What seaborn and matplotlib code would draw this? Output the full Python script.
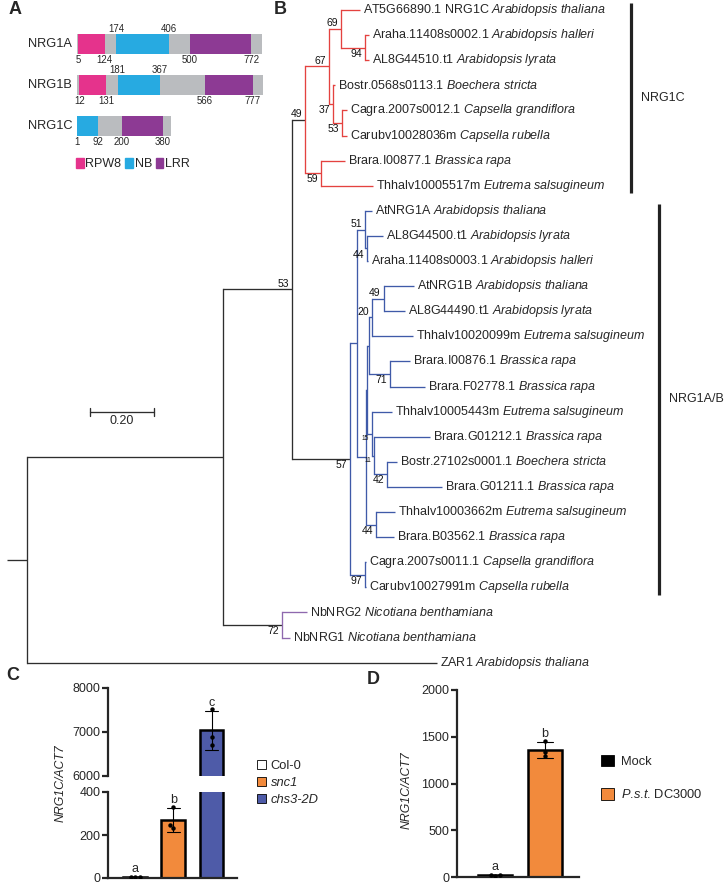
import numpy as np
import pandas as pd
import matplotlib.pyplot as plt
from matplotlib.patches import Patch
import seaborn as sns

# ---------- A: domain architecture (residue numbers) ----------
proteins = ['NRG1A', 'NRG1B', 'NRG1C']
protein_len = [816, 821, 417]
rpw8 = [(5, 124), (12, 131), None]
nb = [(174, 406), (181, 367), (1, 92)]
lrr = [(500, 772), (566, 777), (200, 380)]
pos_above = [[174, 406], [181, 367], []]
pos_below = [[5, 124, 500, 772], [12, 131, 566, 777], [1, 92, 200, 380]]

# ---------- B: ML tree (branch lengths in substitutions/site, bootstrap as node labels) ----------
newick = ("((((((t0:0.059,(t1:0.0125,t2:0.0125)94:0.075)69:0.0375,"
          "(t3:0.006,(t4:0.016,t5:0.016)53:0.028)37:0.0125)67:0.075,"
          "(t6:0.075,t7:0.1625)59:0.05)49:0.041,"
          "(((t8:0.022,(t9:0.05,t10:0.003)44:0.006)51:0.025,"
          "(((((t11:0.094,t12:0.066)49:0.0375,t13:0.128)20:0.009,"
          "(t14:0.0625,t15:0.109)71:0.066):0.006,"
          "(t16:0.0625,(t17:0.175,(t18:0.031,t19:0.172)42:0.041)11:0.006)15:0.016):0.003,"
          "(t20:0.059,t21:0.056)44:0.031):0.028):0.022,"
          "(t22:0.003,t23:0.003)97:0.047)57:0.181)53:0.216,"
          "(t24:0.078,t25:0.025)72:0.184):0.6125,"
          "t26:1.281):0.0625;")
tip_names = ['AT5G66890.1 NRG1C', 'Araha.11408s0002.1', 'AL8G44510.t1', 'Bostr.0568s0113.1',
             'Cagra.2007s0012.1', 'Carubv10028036m', 'Brara.I00877.1', 'Thhalv10005517m',
             'AtNRG1A', 'AL8G44500.t1', 'Araha.11408s0003.1', 'AtNRG1B', 'AL8G44490.t1',
             'Thhalv10020099m', 'Brara.I00876.1', 'Brara.F02778.1', 'Thhalv10005443m',
             'Brara.G01212.1', 'Bostr.27102s0001.1', 'Brara.G01211.1', 'Thhalv10003662m',
             'Brara.B03562.1', 'Cagra.2007s0011.1', 'Carubv10027991m', 'NbNRG2', 'NbNRG1', 'ZAR1']
tip_species = ['Arabidopsis thaliana', 'Arabidopsis halleri', 'Arabidopsis lyrata', 'Boechera stricta',
               'Capsella grandiflora', 'Capsella rubella', 'Brassica rapa', 'Eutrema salsugineum',
               'Arabidopsis thaliana', 'Arabidopsis lyrata', 'Arabidopsis halleri', 'Arabidopsis thaliana',
               'Arabidopsis lyrata', 'Eutrema salsugineum', 'Brassica rapa', 'Brassica rapa',
               'Eutrema salsugineum', 'Brassica rapa', 'Boechera stricta', 'Brassica rapa',
               'Eutrema salsugineum', 'Brassica rapa', 'Capsella grandiflora', 'Capsella rubella',
               'Nicotiana benthamiana', 'Nicotiana benthamiana', 'Arabidopsis thaliana']
clade_tips = [(0, 7), (8, 23), (24, 25)]
clade_labels = ['NRG1C', 'NRG1A/B', None]
clade_colors = ['#E4423F', '#3F5AA8', '#8E68AE']

# ---------- C / D: qPCR ----------
genotypes = ['Col-0', 'snc1', 'chs3-2D']
col0_vals = [4, 6, 5]
snc1_vals = [231, 246, 331]
chs3_vals = [7530, 6880, 6700]
letters_c = ['a', 'b', 'c']

treatments = ['Mock', 'P.s.t. DC3000']
mock_vals = [15, 22, 18]
pst_vals = [1455, 1290, 1340]
letters_d = ['a', 'b']

sns.set_style('ticks')
plt.rcParams['font.family'] = ['Liberation Sans', 'DejaVu Sans']
plt.rcParams['mathtext.fontset'] = 'custom'
plt.rcParams['mathtext.rm'] = 'Liberation Sans'
plt.rcParams['mathtext.it'] = 'Liberation Sans:italic'
plt.rcParams['mathtext.bf'] = 'Liberation Sans:bold'


def it(s):
    return r'$\mathit{' + s.replace(' ', r'\ ') + '}$'


W, H = 725, 883
fig = plt.figure(figsize=(W / 100, H / 100), dpi=100)


def box(x0, y0, x1, y1):
    return [x0 / W, 1 - y1 / H, (x1 - x0) / W, (y1 - y0) / H]


# ================= A =================
c_rpw8, c_nb, c_lrr, c_grey = '#E5338C', '#27AAE1', '#8D3A94', '#BABCBF'
axA = fig.add_axes(box(0, 0, 270, 180))
axA.set_xlim(1 - 77 / 0.2262, 1 + 193 / 0.2262)
axA.set_ylim(3.317, -1.073)
axA.axis('off')
for i, name in enumerate(proteins):
    axA.barh(i, protein_len[i], left=1, height=0.49, color=c_grey, lw=0)
    for seg, col in ((rpw8[i], c_rpw8), (nb[i], c_nb), (lrr[i], c_lrr)):
        if seg:
            axA.barh(i, seg[1] - seg[0], left=seg[0], height=0.49, color=col, lw=0)
    axA.annotate(name, xy=(1, i), xytext=(-3.5, 0), textcoords='offset points',
                 ha='right', va='center', fontsize=9.2)
    for v in pos_above[i]:
        axA.annotate(str(v), xy=(v, i - 0.245), xytext=(0, 0.3), textcoords='offset points',
                     ha='center', va='bottom', fontsize=6.9)
    for v in pos_below[i]:
        axA.annotate(str(v), xy=(v, i + 0.245), xytext=(0, -0.5), textcoords='offset points',
                     ha='center', va='top', fontsize=6.9)
axA.legend([Patch(color=c) for c in (c_rpw8, c_nb, c_lrr)], ['RPW8', 'NB', 'LRR'], ncol=3,
           loc='center left', bbox_to_anchor=(76 / W, 1 - 164 / H), bbox_transform=fig.transFigure,
           frameon=False, fontsize=9.0, handlelength=0.6, handleheight=0.85, handletextpad=0.15,
           columnspacing=0.3, borderpad=0, borderaxespad=0)


# ================= B =================
def parse(s):
    pos = 0

    def node():
        nonlocal pos
        n = {'children': [], 'label': '', 'length': 0.0}
        if s[pos] == '(':
            pos += 1
            while True:
                n['children'].append(node())
                ch = s[pos]
                pos += 1
                if ch == ')':
                    break
        start = pos
        while s[pos] not in ':,);':
            pos += 1
        n['label'] = s[start:pos]
        if s[pos] == ':':
            pos += 1
            start = pos
            while s[pos] not in ',);':
                pos += 1
            n['length'] = float(s[start:pos])
        return n
    return node()


def layout(n, x):
    n['x'] = x + n['length']
    if not n['children']:
        idx = int(n['label'][1:])
        n['y'], n['tips'] = idx, {idx}
    else:
        for c in n['children']:
            layout(c, n['x'])
        n['y'] = (n['children'][0]['y'] + n['children'][-1]['y']) / 2
        n['tips'] = set().union(*[c['tips'] for c in n['children']])


tree = parse(newick)
layout(tree, -tree['length'])

axB = fig.add_axes(box(0, 0, 725, 680))
axB.set_xlim(-27 / 320, 698 / 320)
axB.set_ylim(670 / 25.1, -10 / 25.1)
axB.axis('off')
lw_tree = 0.95
base = '#2E2E2E'
fs_tip = 9.0


def draw(n, px, color, first):
    axB.plot([px, n['x']], [n['y'], n['y']], color=color, lw=lw_tree, solid_capstyle='butt')
    if n['children']:
        own = color
        for (a, b), cc in zip(clade_tips, clade_colors):
            if n['tips'] == set(range(a, b + 1)):
                own = cc
        ys = [n['children'][0]['y'], n['children'][-1]['y']]
        axB.plot([n['x'], n['x']], ys, color=own, lw=lw_tree, solid_capstyle='projecting')
        for k, c in enumerate(n['children']):
            draw(c, n['x'], own, k == 0)
        if n['label']:
            small = int(n['label']) < 20
            axB.annotate(n['label'], xy=(n['x'], n['y']),
                         xytext=(-2.2, 0.6 if first else -0.8), textcoords='offset points',
                         ha='right', va='bottom' if first else 'top',
                         fontsize=4.8 if small else 7.5, color='#111111')
    else:
        i = int(n['label'][1:])
        axB.annotate(tip_names[i] + ' ' + it(tip_species[i]), xy=(n['x'], n['y']),
                     xytext=(2.2, 0), textcoords='offset points', ha='left', va='center',
                     fontsize=fs_tip)


draw(tree, -tree['length'], base, True)

# clade bars
for (a, b), lab, bx in zip(clade_tips, clade_labels, [(631 - 27) / 320, (659 - 27) / 320]):
    if lab is None:
        continue
    axB.plot([bx, bx], [a - 0.28, b + 0.3], color='#222222', lw=2.3, solid_capstyle='butt')
    axB.annotate(lab, xy=(bx, (a + b) / 2), xytext=(7, 0), textcoords='offset points',
                 ha='left', va='center', fontsize=fs_tip)

# scale bar
sb_x, sb_y, sb_len = (90 - 27) / 320, (412 - 10) / 25.1, 0.20
axB.plot([sb_x, sb_x + sb_len], [sb_y, sb_y], color=base, lw=lw_tree)
for xx in (sb_x, sb_x + sb_len):
    axB.plot([xx, xx], [sb_y - 0.17, sb_y + 0.17], color=base, lw=lw_tree)
axB.annotate(f'{sb_len:.2f}', xy=(sb_x + sb_len / 2, sb_y), xytext=(0, -2.5),
             textcoords='offset points', ha='center', va='top', fontsize=fs_tip)

# ================= C =================
orange, slate = '#F28A3C', '#4E5BA8'
dfC = pd.DataFrame({'genotype': np.repeat(genotypes, 3),
                    'value': col0_vals + snc1_vals + chs3_vals})
palC = dict(zip(genotypes, ['white', orange, slate]))
axC_top = fig.add_axes(box(108, 688, 237, 776))
axC_bot = fig.add_axes(box(108, 792, 237, 878))


def style_ax(ax):
    for sp in ('left', 'bottom'):
        ax.spines[sp].set_linewidth(1.6)
    sns.despine(ax=ax)
    ax.tick_params(axis='y', length=4.5, width=1.6, labelsize=9, pad=1)
    ax.set_xticks([])
    ax.set_xlabel('')
    ax.set_ylabel('')


for ax in (axC_top, axC_bot):
    sns.barplot(data=dfC, x='genotype', y='value', hue='genotype', palette=palC, saturation=1,
                errorbar='sd', capsize=0.33, err_kws={'color': 'black', 'linewidth': 0.8},
                edgecolor='black', linewidth=1.8, width=0.63, legend=False, ax=ax)
    sns.swarmplot(data=dfC, x='genotype', y='value', color='black', size=3.2, ax=ax)
    ax.set_xlim(-0.72, 2.67)
    style_ax(ax)
axC_top.set_ylim(6000, 8000)
axC_top.set_yticks([6000, 7000, 8000])
axC_top.spines['bottom'].set_visible(False)
axC_bot.set_ylim(0, 400)
axC_bot.set_yticks([0, 200, 400])

statC = dfC.groupby('genotype', sort=False)['value'].agg(['mean', 'std'])
for k, g in enumerate(genotypes):
    top = statC.loc[g, 'mean'] + statC.loc[g, 'std']
    ax = axC_bot if top <= 400 else axC_top
    ax.annotate(letters_c[k], xy=(k, top), xytext=(0, 1.5), textcoords='offset points',
                ha='center', va='bottom', fontsize=9)

fig.text(61 / W, 1 - 783 / H, 'NRG1C/ACT7', rotation=90, ha='center', va='center',
         style='italic', fontsize=8.8)
legC = axC_bot.legend([Patch(facecolor=palC[g], edgecolor='black', lw=0.6) for g in genotypes],
                      genotypes, loc='center left', bbox_to_anchor=(257 / W, 1 - 783 / H),
                      bbox_transform=fig.transFigure, frameon=False, fontsize=9.3,
                      handlelength=0.7, handleheight=0.7, handletextpad=0.35, labelspacing=0.35,
                      borderpad=0, borderaxespad=0)
for t in legC.get_texts()[1:]:
    t.set_style('italic')

# ================= D =================
dfD = pd.DataFrame({'treatment': np.repeat(treatments, 3), 'value': mock_vals + pst_vals})
palD = dict(zip(treatments, ['black', orange]))
axD = fig.add_axes(box(457, 690, 579, 877))
sns.barplot(data=dfD, x='treatment', y='value', hue='treatment', palette=palD, saturation=1,
            errorbar='sd', capsize=0.33, err_kws={'color': 'black', 'linewidth': 0.8},
            edgecolor='black', linewidth=1.8, width=0.69, legend=False, ax=axD)
sns.swarmplot(data=dfD, x='treatment', y='value', color='black', size=3.2, ax=axD)
axD.set_xlim(-0.77, 1.69)
axD.set_ylim(0, 2000)
axD.set_yticks([0, 500, 1000, 1500, 2000])
style_ax(axD)
statD = dfD.groupby('treatment', sort=False)['value'].agg(['mean', 'std'])
for k, g in enumerate(treatments):
    top = statD.loc[g, 'mean'] + statD.loc[g, 'std']
    axD.annotate(letters_d[k], xy=(k, top), xytext=(0, 1.5), textcoords='offset points',
                 ha='center', va='bottom', fontsize=9)
fig.text(407 / W, 1 - 790 / H, 'NRG1C/ACT7', rotation=90, ha='center', va='center',
         style='italic', fontsize=8.8)
strain, strain_id = treatments[1].split(' ')
strain_lab = '.'.join(it(p) if p else '' for p in strain.split('.')) + ' ' + strain_id
axD.legend([Patch(facecolor=palD[g], edgecolor='black', lw=0.6) for g in treatments],
           [treatments[0], strain_lab], loc='center left',
           bbox_to_anchor=(601 / W, 1 - 778 / H), bbox_transform=fig.transFigure,
           frameon=False, fontsize=9.3, handlelength=1.0, handleheight=1.0,
           handletextpad=0.55, labelspacing=1.55, borderpad=0, borderaxespad=0)

# panel letters
for lab, (x, y) in zip('ABCD', [(15, 9), (280, 9), (13, 675), (373, 680)]):
    fig.text(x / W, 1 - y / H, lab, ha='center', va='center', fontsize=13, fontweight='bold')

fig.savefig('out.png', dpi=100)
